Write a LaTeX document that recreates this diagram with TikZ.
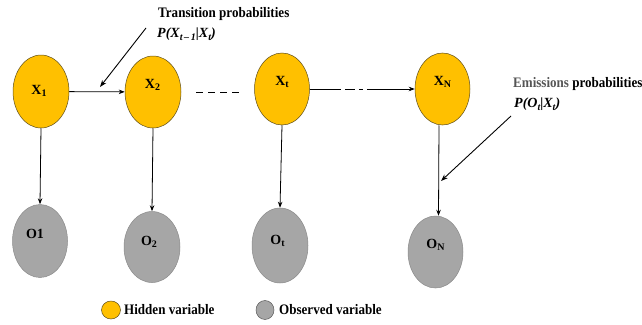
\documentclass[tikz,border=0pt]{standalone}
\usepackage{fontspec}
\usepackage{graphicx}
\setmainfont{Liberation Serif}
\usetikzlibrary{shapes.geometric,arrows.meta}
\definecolor{hiddenfill}{HTML}{FFC000}
\definecolor{hiddenedge}{HTML}{5E4E1C}
\definecolor{obsfill}{HTML}{A6A6A6}
\definecolor{obsedge}{HTML}{8A8A8A}
\definecolor{softtext}{HTML}{555555}
\tikzset{
  hidden/.style={ellipse, draw=hiddenedge, line width=0.5pt, fill=hiddenfill, inner sep=0pt},
  observed/.style={ellipse, draw=obsedge, line width=0.5pt, fill=obsfill, inner sep=0pt},
  varlabel/.style={anchor=base, inner sep=0pt, font=\fontsize{14}{14}\selectfont\bfseries},
  caption/.style={anchor=base west, inner sep=0pt, font=\fontsize{14.5}{17}\selectfont\bfseries},
  formula/.style={anchor=base west, inner sep=0pt, font=\fontsize{14}{16}\selectfont\bfseries\itshape},
  link/.style={line width=0.8pt, -{Stealth[length=6pt,width=4.5pt]}},
  pointer/.style={line width=0.9pt, -{Stealth[length=7pt,width=5pt]}}
}
% narrow setting for the bold captions
\newcommand{\narrow}[1]{\scalebox{0.9}[1]{#1}}
\newcommand{\sub}[1]{\raisebox{-2.5pt}{\fontsize{10}{10}\selectfont #1}}
\newcommand{\lowidx}[1]{\raisebox{-3pt}{\fontsize{10}{10}\selectfont #1}}
\begin{document}
\begin{tikzpicture}[x=1pt,y=-1pt]
  \useasboundingbox (0,0) rectangle (642,324);

  % hidden states
  \node[hidden, minimum width=56pt, minimum height=73pt] (X1) at (41,91.5) {};
  \node[hidden, minimum width=56pt, minimum height=72pt] (X2) at (153,92) {};
  \node[hidden, minimum width=55pt, minimum height=72pt] (Xt) at (282,89) {};
  \node[hidden, minimum width=55pt, minimum height=72pt] (XN) at (442.5,89) {};

  % observations
  \node[observed, minimum width=55pt, minimum height=73pt] (O1) at (40,241) {};
  \node[observed, minimum width=56pt, minimum height=71pt] (O2) at (152,247) {};
  \node[observed, minimum width=56pt, minimum height=75pt] (Ot) at (280,245.5) {};
  \node[observed, minimum width=55pt, minimum height=72pt] (ON) at (435.5,252) {};

  % variable names
  \node[varlabel] (lX1) at (39,94) {X\sub{1}};
  \node[varlabel] (lX2) at (152.5,88) {X\sub{2}};
  \node[varlabel] (lXt) at (282,85) {X\sub{t}};
  \node[varlabel] (lXN) at (442.5,85) {X\sub{N}};
  \node[varlabel] (lO1) at (35,238) {O1};
  \node[varlabel] (lO2) at (149,245) {O\sub{2}};
  \node[varlabel] (lOt) at (277.5,244) {O\sub{t}};
  \node[varlabel] (lON) at (435.5,248) {O\sub{N}};

  % transitions
  \draw[link] (X1) -- (X2);
  \coordinate (gapA) at (196,92);
  \coordinate (gapB) at (240,92);
  \draw[line width=0.9pt, dash pattern=on 7pt off 5pt] (gapA) -- (gapB);
  \draw[link, dash pattern=on 31pt off 4pt on 10pt off 4pt on 4pt off 4pt on 80pt] (Xt) -- (XN);

  % emissions
  \draw[link] (X1.south) -- (O1.north);
  \draw[link] (X2.south) -- (O2.north);
  \draw[link] (Xt.south) -- (Ot.north);
  \draw[link] ([xshift=-3.5pt]XN.south) -- ([xshift=3pt]ON.north);

  % annotations
  \node[caption] (ttitle) at (158,17) {\narrow{Transition probabilities}};
  \node[formula] (tformula) at (157,37) {P(X\lowidx{t\,–\,1}|X\lowidx{t})};
  \coordinate (tfrom) at (146,28);
  \coordinate (tto) at (100,87);
  \draw[pointer] (tfrom) -- (tto);

  \node[caption] (etitle) at (513,87) {\narrow{\textcolor{softtext}{Emissions} probabilities}};
  \node[formula] (eformula) at (514,107) {P(O\lowidx{t}|X\lowidx{t})};
  \coordinate (efrom) at (511,116);
  \coordinate (eto) at (441,181);
  \draw[pointer] (efrom) -- (eto);

  % legend
  \node[hidden, minimum width=19pt, minimum height=18pt] (kh) at (111,310) {};
  \node[caption] (khl) at (124,314) {\narrow{Hidden variable}};
  \node[observed, draw=black!65, minimum width=18pt, minimum height=19pt] (ko) at (265,310) {};
  \node[caption] (kol) at (279,314) {\narrow{Observed variable}};
\end{tikzpicture}
\end{document}
